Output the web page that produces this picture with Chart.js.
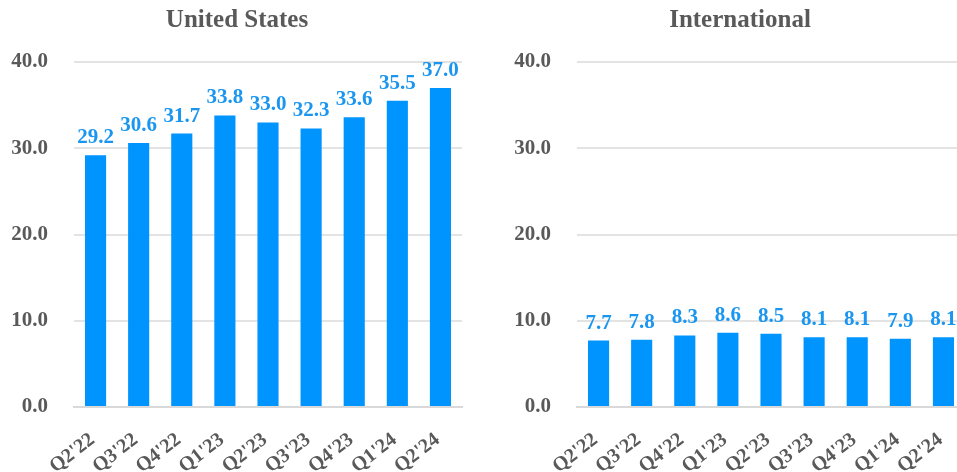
<!DOCTYPE html>
<html><head><meta charset="utf-8">
<script src="https://cdn.jsdelivr.net/npm/chart.js@4"></script>
<style>
html,body{margin:0;padding:0;background:#fff;overflow:hidden;width:957px;height:472px;}
.box{position:absolute;top:0;height:472px;}
</style></head><body>
<div class="box" id="b1" style="left:0;width:478px"><canvas id="c1"></canvas></div>
<div class="box" id="b2" style="left:478px;width:487px"><canvas id="c2"></canvas></div>
<script>
const categories = ["Q2'22","Q3'22","Q4'22","Q1'23","Q2'23","Q3'23","Q4'23","Q1'24","Q2'24"];
const usValues = [29.2, 30.6, 31.7, 33.8, 33.0, 32.3, 33.6, 35.5, 37.0];
const intlValues = [7.7, 7.8, 8.3, 8.6, 8.5, 8.1, 8.1, 7.9, 8.1];
const yTicks = [0, 10, 20, 30, 40];
const titles = ["United States", "International"];

const FONT = "'Liberation Serif','Times New Roman',serif";
const GRAY = '#595959';
const BAR = '#0094FF';
const LBL = '#1A96F0';

const valueLabels = {
  id: 'valueLabels',
  afterDatasetsDraw(chart) {
    const ctx = chart.ctx;
    const meta = chart.getDatasetMeta(0);
    ctx.save();
    ctx.font = "bold 21px " + FONT;
    ctx.fillStyle = LBL;
    ctx.textAlign = 'center';
    ctx.textBaseline = 'alphabetic';
    meta.data.forEach((el, i) => {
      const v = chart.data.datasets[0].data[i];
      ctx.fillText(v.toFixed(1), el.x, el.y - 12);
    });
    ctx.restore();
  }
};

const panelTitle = {
  id: 'panelTitle',
  afterDraw(chart, args, opts) {
    const ctx = chart.ctx;
    ctx.save();
    ctx.font = "bold 25px " + FONT;
    ctx.fillStyle = GRAY;
    ctx.textAlign = 'center';
    ctx.textBaseline = 'alphabetic';
    ctx.fillText(opts.text, opts.x, 27);
    ctx.restore();
  }
};

function makeChart(id, values, title, yWidth, padRight, titleX) {
  return new Chart(document.getElementById(id), {
    type: 'bar',
    data: { labels: categories, datasets: [{ data: values, backgroundColor: BAR, borderWidth: 0, barPercentage: 0.49, categoryPercentage: 1.0 }] },
    options: {
      responsive: true, maintainAspectRatio: false, animation: false,
      devicePixelRatio: 1,
      layout: { padding: { left: 0, right: padRight, top: 62, bottom: 0 } },
      plugins: {
        legend: { display: false }, tooltip: { enabled: false },
        title: { display: false },
        panelTitle: { text: title, x: titleX }
      },
      scales: {
        x: {
          grid: { display: false, drawTicks: false },
          border: { display: true, color: '#D9D9D9', width: 2 },
          ticks: { color: GRAY, font: { family: FONT, size: 20, weight: 'bold' }, maxRotation: 38, minRotation: 38, padding: 21, labelOffset: -3, autoSkip: false },
          afterFit(s) { s.height = 65; s.paddingLeft = 0; s.paddingRight = 0; }
        },
        y: {
          min: 0, max: 40,
          afterBuildTicks(s) { s.ticks = yTicks.map(v => ({ value: v })); },
          grid: { color: '#E3E3E3', lineWidth: 2, drawTicks: false },
          border: { display: false },
          ticks: { color: GRAY, font: { family: FONT, size: 21, weight: 'bold' }, padding: 26, callback: v => Number(v).toFixed(1) },
          afterFit(s) { s.width = yWidth; }
        }
      }
    },
    plugins: [valueLabels, panelTitle]
  });
}
makeChart('c1', usValues, titles[0], 74, 16, 237);
makeChart('c2', intlValues, titles[1], 99, 0, 262);
</script>
</body></html>
